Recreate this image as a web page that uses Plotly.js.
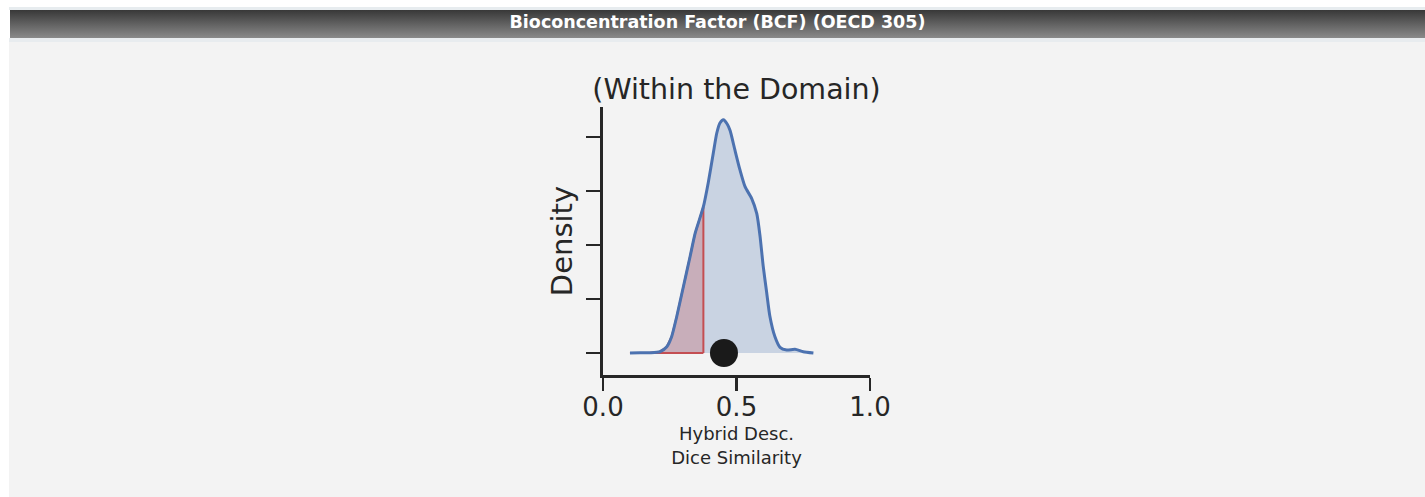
<!DOCTYPE html>
<html>
<head>
<meta charset="utf-8">
<script src="https://cdn.plot.ly/plotly-3.0.1.min.js"></script>
<style>
  html, body { margin: 0; padding: 0; background: #ffffff; width: 1425px; height: 497px; overflow: hidden; }
  #strip1 { position: absolute; left: 9px; top: 7px; width: 1416px; height: 3px; background: #e7ecef; }
  #header { position: absolute; left: 10px; top: 10px; width: 1415px; height: 28px;
            background: linear-gradient(to bottom, #383838, #8a8a8a);
            color: #ffffff; font-family: "DejaVu Sans", sans-serif; font-weight: bold; font-size: 17.5px;
            line-height: 25px; text-align: center; }
  #strip2 { position: absolute; left: 9px; top: 38px; width: 1416px; height: 4px; background: #e8ecef; }
  #chart { position: absolute; left: 9px; top: 42px; width: 1416px; height: 455px; }
</style>
</head>
<body>
<div id="strip1"></div>
<div id="header">Bioconcentration Factor (BCF) (OECD 305)</div>
<div id="strip2"></div>
<div id="chart"></div>
<script>
// KDE of similarity values
const simX = [0.101,0.139,0.176,0.213,0.239,0.257,0.276,0.301,0.326,0.345,0.376,0.394,0.413,0.426,0.438,0.451,0.465,0.476,0.494,0.513,0.532,0.557,0.576,0.588,0.600,0.613,0.625,0.644,0.663,0.688,0.719,0.750,0.788];
const density = [0.0,0.003,0.006,0.024,0.117,0.302,0.672,1.228,1.783,2.216,2.71,3.15,3.70,4.07,4.26,4.32,4.24,4.12,3.76,3.39,3.08,2.86,2.58,2.17,1.61,1.12,0.68,0.30,0.106,0.056,0.069,0.024,0.0];
const threshold = 0.376;
const querySim = [0.453];
const queryY = [0];
const xTicks = [0, 0.5, 1.0];
const xTickText = ["0.0", "0.5", "1.0"];
const yTicks = [0, 1, 2, 3, 4];

// region below threshold
const redX = [], redY = [];
for (let i = 0; i < simX.length; i++) {
  if (simX[i] <= threshold) { redX.push(simX[i]); redY.push(density[i]); }
  else {
    const x0 = simX[i-1], x1 = simX[i], y0 = density[i-1], y1 = density[i];
    if (redX[redX.length-1] < threshold) {
      redX.push(threshold); redY.push(y0 + (y1 - y0) * (threshold - x0) / (x1 - x0));
    }
    break;
  }
}
const polyX = [threshold, simX[0]].concat(redX).concat([threshold]);
const polyY = [0, 0].concat(redY).concat([0]);

const blue = '#4c72b0', red = '#c44e52', ink = '#262626';
const traces = [
  { x: simX, y: density, type: 'scatter', mode: 'lines', fill: 'tozeroy',
    fillcolor: 'rgba(76,114,176,0.25)', line: { width: 0, shape: 'spline', smoothing: 0.6 }, hoverinfo: 'skip' },
  { x: polyX, y: polyY, type: 'scatter', mode: 'lines', fill: 'toself',
    fillcolor: 'rgba(196,78,82,0.28)', line: { color: red, width: 2 }, hoverinfo: 'skip' },
  { x: simX, y: density, type: 'scatter', mode: 'lines',
    line: { color: blue, width: 3, shape: 'spline', smoothing: 0.6 } },
  { x: querySim, y: queryY, type: 'scatter', mode: 'markers', cliponaxis: false,
    marker: { size: 28, color: '#1a1a1a' } }
];

const layout = {
  width: 1416, height: 455,
  margin: { l: 594, r: 555, t: 65, b: 122 },
  paper_bgcolor: '#f3f3f3', plot_bgcolor: '#f3f3f3',
  showlegend: false,
  font: { family: 'DejaVu Sans, sans-serif', color: ink },
  title: { text: '(Within the Domain)', x: 0.5, xref: 'paper', xanchor: 'center',
           y: 1 - 47 / 455, yref: 'container', yanchor: 'middle',
           font: { size: 28.5, color: ink, family: 'DejaVu Sans, sans-serif' } },
  xaxis: {
    range: [0, 1], tickvals: xTicks, ticktext: xTickText, ticks: 'outside', ticklen: 13, tickwidth: 2.7,
    tickcolor: ink, showline: true, linecolor: ink, linewidth: 2.7, showgrid: false, zeroline: false,
    tickfont: { size: 26, color: ink }, automargin: false, ticklabelstandoff: -6,
    title: { text: 'Hybrid Desc.<br>Dice Similarity', font: { size: 18, color: ink }, standoff: 7 }
  },
  yaxis: {
    range: [-0.407, 4.556], tickvals: yTicks, showticklabels: false, ticks: 'outside', ticklen: 14, tickwidth: 2.7,
    tickcolor: ink, showline: true, linecolor: ink, linewidth: 2.7, showgrid: false, zeroline: false,
    automargin: false,
    title: { text: 'Density', font: { size: 29, color: ink }, standoff: 6 }
  }
};

Plotly.newPlot('chart', traces, layout, { displayModeBar: false, staticPlot: true });
</script>
</body>
</html>
